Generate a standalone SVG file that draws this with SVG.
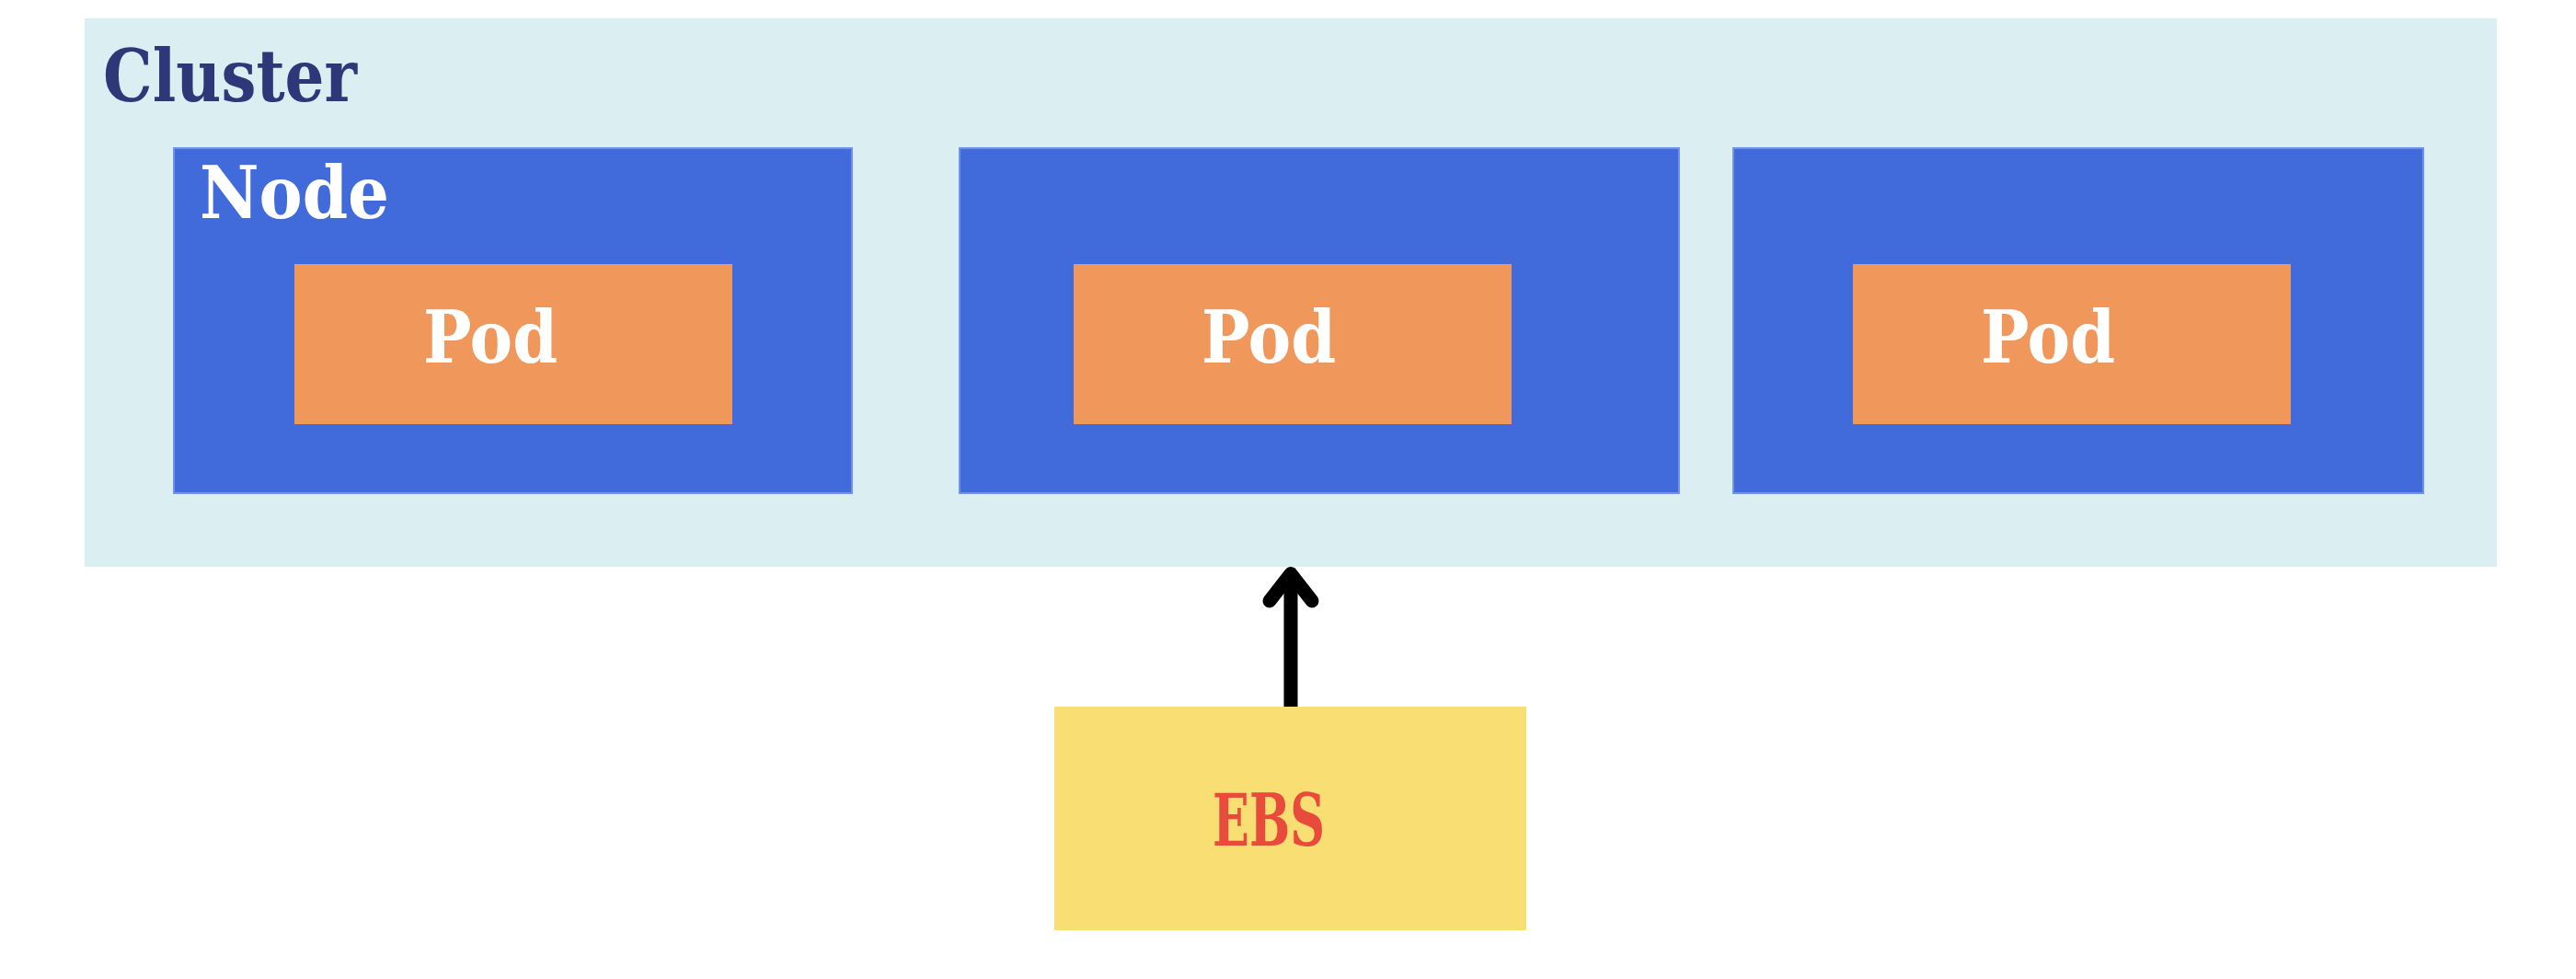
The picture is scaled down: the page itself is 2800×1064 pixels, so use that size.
<svg xmlns="http://www.w3.org/2000/svg" width="2800" height="1064" viewBox="0 0 2800 1064">
<style>
.lbl{font-family:"DejaVu Serif Condensed","DejaVu Serif","Liberation Serif",serif;font-stretch:condensed;font-weight:bold;font-size:78px}
.node{fill:#416BDB;stroke:#7194E8;stroke-width:2}
.pod{fill:#F0975C}
.w{fill:#FFFFFF}
</style>
<rect width="2800" height="1064" fill="#FFFFFF"/>
<g id="cluster">
<rect x="92" y="20" width="2622" height="596" fill="#DBEEF2"/>
<text class="lbl" x="112" y="110" fill="#2E3878" font-weight="normal" textLength="276" lengthAdjust="spacingAndGlyphs">Cluster</text>
</g>
<g id="node1">
<rect class="node" x="189" y="161" width="737" height="375"/>
<text class="lbl w" x="217" y="237" textLength="206" lengthAdjust="spacingAndGlyphs">Node</text>
</g>
<g id="pod1">
<rect class="pod" x="320" y="287" width="476" height="174"/>
<text class="lbl w" x="460" y="394" textLength="146" lengthAdjust="spacingAndGlyphs">Pod</text>
</g>
<g id="node2">
<rect class="node" x="1043" y="161" width="782" height="375"/>
</g>
<g id="pod2">
<rect class="pod" x="1167" y="287" width="476" height="174"/>
<text class="lbl w" x="1306" y="394" textLength="146" lengthAdjust="spacingAndGlyphs">Pod</text>
</g>
<g id="node3">
<rect class="node" x="1884" y="161" width="750" height="375"/>
</g>
<g id="pod3">
<rect class="pod" x="2014" y="287" width="476" height="174"/>
<text class="lbl w" x="2153" y="394" textLength="146" lengthAdjust="spacingAndGlyphs">Pod</text>
</g>
<g id="ebs">
<rect x="1146" y="768" width="513" height="243" fill="#F9DE73"/>
<text class="lbl" x="1318" y="919" font-size="66" fill="#E84A3C" textLength="122" lengthAdjust="spacingAndGlyphs">EBS</text>
</g>
<g id="connectors" stroke="#000000" stroke-width="15" fill="none">
<line x1="1403" y1="768" x2="1403" y2="628"/>
<polyline points="1380,653 1403,623.5 1426,653" stroke-linecap="round" stroke-linejoin="round"/>
</g>
</svg>
